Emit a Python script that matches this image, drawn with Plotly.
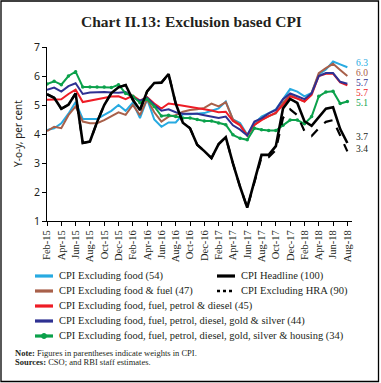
import plotly.graph_objects as go

months = ["Feb-15","Mar-15","Apr-15","May-15","Jun-15","Jul-15","Aug-15","Sep-15","Oct-15","Nov-15","Dec-15",
          "Jan-16","Feb-16","Mar-16","Apr-16","May-16","Jun-16","Jul-16","Aug-16","Sep-16","Oct-16","Nov-16","Dec-16",
          "Jan-17","Feb-17","Mar-17","Apr-17","May-17","Jun-17","Jul-17","Aug-17","Sep-17","Oct-17","Nov-17","Dec-17",
          "Jan-18","Feb-18","Mar-18","Apr-18","May-18","Jun-18","Jul-18","Aug-18"]
tick_labels = months[::2]
y_ticks = [1, 2, 3, 4, 5, 6, 7]

excl_food = [4.14, 4.2, 4.37, 4.7, 5.1, 4.52, 4.52, 4.52, 4.66, 4.8, 5.0, 4.8, 5.08, 4.55,
             5.2, 4.5, 4.25, 4.4, 4.4, 4.68, 4.68, 4.7, 4.72, 4.8, 4.88, 5.12, 4.5, 4.38, 3.97,
             4.37, 4.6, 4.72, 4.85, 5.2, 5.55, 5.46, 5.3, 5.42, 6.05, 6.22, 6.5, 6.4, 6.3]
excl_food_fuel = [4.1, 4.25, 4.2, 4.65, 4.95, 4.43, 4.37, 4.37, 4.48, 4.62, 4.75, 4.66, 5.0, 4.65,
                  5.2, 4.75, 4.43, 4.6, 4.65, 4.77, 4.83, 4.85, 4.9, 5.05, 4.95, 5.1, 4.5, 4.32, 3.95,
                  4.31, 4.5, 4.62, 4.71, 5.08, 5.35, 5.23, 5.12, 5.41, 6.1, 6.27, 6.42, 6.21, 6.0]
excl_petrol = [5.18, 5.18, 5.2, 5.38, 5.53, 5.1, 5.15, 5.2, 5.24, 5.29, 5.3, 5.2, 5.32, 5.15,
               5.27, 5.05, 4.88, 5.05, 5.02, 4.98, 4.95, 4.9, 4.86, 4.81, 4.75, 4.77, 4.45, 4.3, 3.95,
               4.31, 4.48, 4.6, 4.74, 5.0, 5.3, 5.22, 5.12, 5.35, 6.0, 6.08, 6.08, 5.78, 5.68]
excl_gold = [5.52, 5.6, 5.46, 5.65, 5.75, 5.38, 5.43, 5.45, 5.45, 5.43, 5.42, 5.45, 5.25, 5.15,
             5.25, 5.0, 4.8, 4.85, 4.75, 4.7, 4.7, 4.7, 4.65, 4.6, 4.55, 4.6, 4.3, 4.15, 3.95,
             4.43, 4.54, 4.71, 4.83, 5.2, 5.4, 5.3, 5.2, 5.4, 6.0, 6.1, 6.1, 5.8, 5.73]
excl_housing = [5.72, 5.82, 5.7, 6.0, 6.15, 5.62, 5.62, 5.62, 5.62, 5.6, 5.7, 5.4, 5.3, 5.08,
                5.2, 4.95, 4.62, 4.65, 4.6, 4.55, 4.55, 4.5, 4.45, 4.45, 4.38, 4.32, 3.97, 3.85, 3.8,
                4.2, 4.15, 4.12, 4.12, 4.3, 4.48, 4.48, 4.35, 4.6, 5.3, 5.45, 5.47, 5.05, 5.12]
headline = [5.37, 5.25, 4.87, 5.01, 5.40, 3.69, 3.74, 4.41, 5.00, 5.41, 5.61, 5.69, 5.18, 4.83,
            5.47, 5.76, 5.77, 6.07, 5.05, 4.39, 4.20, 3.63, 3.41, 3.17, 3.65, 3.89, 2.99, 2.18, 1.46,
            2.36, 3.28, 3.28, 3.58, 4.88, 5.21, 5.07, 4.44, 4.28, 4.58, 4.87, 4.92, 4.17, 3.69]
excl_hra = [5.37, 5.25, 4.87, 5.01, 5.40, 3.69, 3.74, 4.41, 5.00, 5.41, 5.61, 5.69, 5.18, 4.83,
            5.47, 5.76, 5.77, 6.07, 5.05, 4.39, 4.20, 3.63, 3.41, 3.17, 3.65, 3.89, 2.99, 2.18, 1.46,
            2.3, 3.2, 3.2, 3.45, 4.55, 4.85, 4.65, 4.1, 3.93, 4.2, 4.42, 4.48, 3.95, 3.4]

names = ["CPI Excluding food (54)",
         "CPI Excluding food & fuel (47)",
         "CPI Excluding food, fuel, petrol & diesel (45)",
         "CPI Excluding food, fuel, petrol, diesel, gold & silver (44)",
         "CPI Excluding food, fuel, petrol, diesel, gold, silver & housing (34)",
         "CPI Headline (100)",
         "CPI Excluding HRA (90)"]

BLUE = "#27AAE1"
BROWN = "#A8604A"
RED = "#EE1C25"
INDIGO = "#2E3192"
GREEN = "#0BA14B"
BLACK = "#000000"
FONT = "Liberation Serif"
SANS = "Noto Sans"

W, H = 381, 383
L, T, R, B = 47, 47, 29, 162
PW, PH = W - L - R, H - T - B


def px(x):
    return (x - L) / PW


def py(y):
    return 1 - (y - T) / PH


fig = go.Figure()
series = [
    (excl_food, BLUE, 2, None, False),
    (excl_food_fuel, BROWN, 2, None, False),
    (excl_petrol, RED, 2, None, False),
    (excl_gold, INDIGO, 2, None, False),
    (excl_housing, GREEN, 2, None, True),
    (headline, BLACK, 2.6, None, False),
    (excl_hra, BLACK, 2.2, "dash", False),
]
for (vals, col, w, dash, mk), nm in zip(series, names):
    fig.add_trace(go.Scatter(
        x=months, y=vals, name=nm, mode="lines+markers" if mk else "lines",
        line=dict(color=col, width=w, dash=dash),
        marker=dict(size=3.5, color=col) if mk else None,
        showlegend=False, hoverinfo="skip"))

shapes = []
annotations = []

# outer border
shapes.append(dict(type="rect", xref="paper", yref="paper",
                   x0=px(1), x1=px(378.5), y0=py(381.5), y1=py(1),
                   line=dict(color="black", width=1.3)))

# title
annotations.append(dict(text="<b>Chart II.13: Exclusion based CPI</b>", xref="paper", yref="paper",
                        x=px(191), y=py(22), showarrow=False, xanchor="center", yanchor="middle",
                        font=dict(family=FONT, size=15.5, color="#231F20")))

# y-axis title
annotations.append(dict(text="Y-o-y, per cent", xref="paper", yref="paper", x=px(18), y=py(134),
                        textangle=-90, showarrow=False, xanchor="center", yanchor="middle",
                        font=dict(family=SANS, size=10, color="#231F20")))

# end labels
end_pos = [(excl_food, BLUE, 62.5), (excl_food_fuel, BROWN, 72.5), (excl_gold, INDIGO, 83),
           (excl_petrol, RED, 93), (excl_housing, GREEN, 103), (headline, "#231F20", 137),
           (excl_hra, "#231F20", 149)]
for vals, col, yy in end_pos:
    annotations.append(dict(text=f"{vals[-1]:.1f}", xref="paper", yref="paper", x=px(355), y=py(yy),
                            showarrow=False, xanchor="left", yanchor="middle", borderpad=0,
                            font=dict(family=FONT, size=9.5, color=col)))

# legend (manual layout)
leg = [
    (names[0], BLUE, None, False, 35, 276),
    (names[5], BLACK, None, False, 217, 276),
    (names[1], BROWN, None, False, 35, 291),
    (names[6], BLACK, "dot", False, 217, 291),
    (names[2], RED, None, False, 35, 306),
    (names[3], INDIGO, None, False, 35, 321),
    (names[4], GREEN, None, True, 35, 336),
]
for nm, col, dash, mk, x0, yy in leg:
    shapes.append(dict(type="line", xref="paper", yref="paper", x0=px(x0), x1=px(x0 + 18),
                       y0=py(yy), y1=py(yy), line=dict(color=col, width=3.2 if dash is None else 2.6,
                                                        dash=dash if dash else "solid")))
    if mk:
        shapes.append(dict(type="circle", xref="paper", yref="paper", x0=px(x0 + 6.5), x1=px(x0 + 11.5),
                           y0=py(yy + 2.5), y1=py(yy - 2.5), fillcolor=col, line=dict(color=col, width=1)))
    annotations.append(dict(text=nm, xref="paper", yref="paper", x=px(x0 + 22), y=py(yy),
                            showarrow=False, xanchor="left", yanchor="middle",
                            font=dict(family=FONT, size=10.5, color="#231F20")))

annotations.append(dict(text="<b>Note:</b> Figures in parentheses indicate weights in CPI.", xref="paper",
                        yref="paper", x=px(13), y=py(352.5), showarrow=False, xanchor="left",
                        yanchor="middle", font=dict(family=FONT, size=8.5, color="#231F20")))
annotations.append(dict(text="<b>Sources:</b> CSO; and RBI staff estimates.", xref="paper",
                        yref="paper", x=px(13), y=py(362), showarrow=False, xanchor="left",
                        yanchor="middle", font=dict(family=FONT, size=8.5, color="#231F20")))

fig.update_layout(
    width=W, height=H, margin=dict(l=L, r=R, t=T, b=B),
    paper_bgcolor="white", plot_bgcolor="white",
    shapes=shapes, annotations=annotations, showlegend=False,
    xaxis=dict(type="category", categoryorder="array", categoryarray=months,
               range=[0, 42.65], tickmode="array", tickvals=tick_labels, ticktext=tick_labels,
               tickangle=-90, ticks="outside", ticklen=4, tickcolor="black", showgrid=False,
               showline=True, linecolor="black", linewidth=1, zeroline=False,
               tickfont=dict(family=FONT, size=10.5, color="#231F20")),
    yaxis=dict(range=[1, 7], tickvals=y_ticks, ticks="outside", ticklen=4, tickcolor="black",
               showgrid=False, showline=True, linecolor="black", linewidth=1, zeroline=False,
               tickfont=dict(family=SANS, size=10.5, color="#231F20")),
)

fig.write_html("out.html", config={"displayModeBar": False, "staticPlot": True},
               post_script="document.body.style.margin='0';document.body.style.overflow='hidden';")
